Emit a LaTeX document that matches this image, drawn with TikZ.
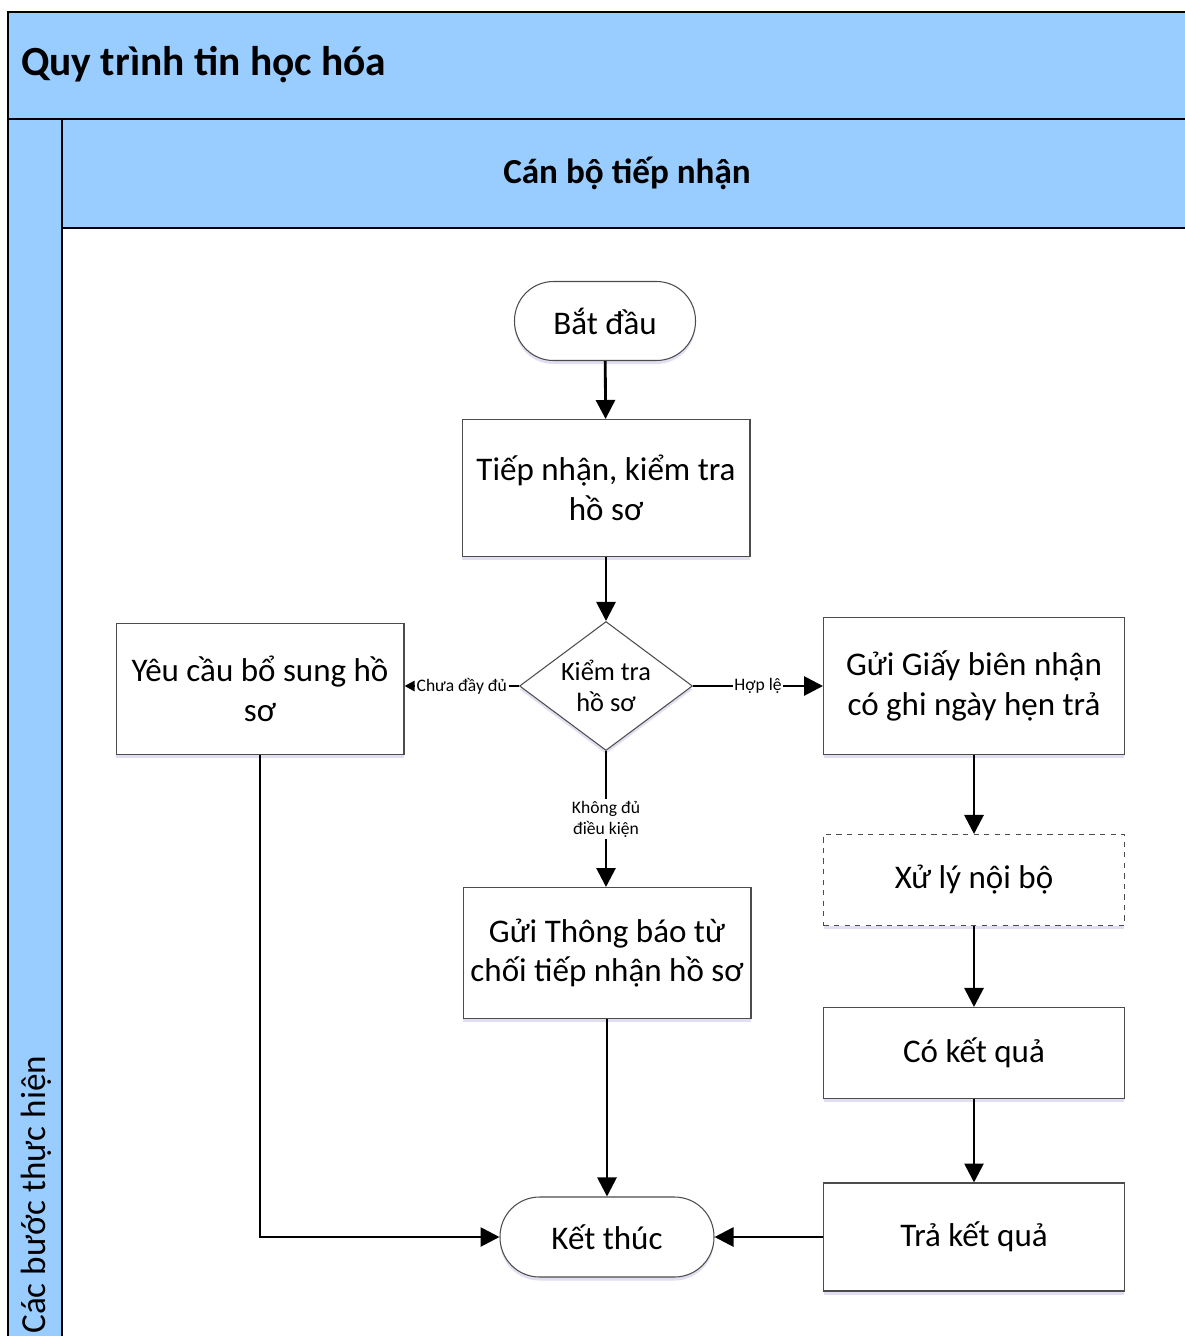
\documentclass[tikz,border=0pt]{standalone}
\usepackage{fontspec}
\setmainfont{Carlito}
\usetikzlibrary{shapes.geometric,arrows.meta,positioning,shadows}
\definecolor{lanebl}{RGB}{153,204,255}

\begin{document}
\begin{tikzpicture}[x=0.02cm, y=-0.02cm,
    lane/.style={draw=black, line width=1.2pt, fill=lanebl},
    boxtext/.style={align=center, font=\fontsize{18.8}{22.5}\selectfont},
    procbox/.style={boxtext, draw=gray!60!black, line width=0.6pt, fill=white,
        drop shadow={shadow xshift=0pt, shadow yshift=-2pt, fill=blue!40!gray, opacity=0.18}},
    termbox/.style={procbox, rounded corners=0.78cm, minimum height=1.58cm},
    decbox/.style={procbox, diamond, aspect=1.34, inner sep=0pt, minimum width=3.46cm, minimum height=2.58cm,
        font=\fontsize{15}{18}\selectfont},
    flow/.style={line width=1.6pt, -{Triangle[length=0.38cm, width=0.38cm]}},
    smallflow/.style={line width=1.6pt, -{Triangle[length=0.2cm, width=0.2cm]}},
    elabel/.style={fill=white, inner sep=1pt, align=center, font=\fontsize{10}{12}\selectfont}
]
\useasboundingbox (0,0) rectangle (1185,1336);
\clip (0,0) rectangle (1185,1336);

% pool and lane
\draw[lane] (8,12) rectangle (1200,119);
\draw[lane] (8,119) rectangle (62,1350);
\draw[lane] (62,119) rectangle (1200,228);
\draw[line width=1.2pt] (62,228) rectangle (1200,1350);
\node[anchor=west, font=\bfseries\fontsize{23.6}{28}\selectfont] (pool) at (15,65) {Quy trình tin học hóa};
\node[font=\bfseries\fontsize{20}{24}\selectfont] (lanehead) at (627,173) {Cán bộ tiếp nhận};
\node[rotate=90, anchor=west, inner sep=0pt, font=\fontsize{20}{24}\selectfont] (steps) at (36,1334) {Các bước thực hiện};

% flow nodes
\node[termbox, minimum width=3.62cm] (start) at (605,321) {Bắt đầu};
\node[procbox, minimum width=5.76cm, minimum height=2.74cm] (tiepnhan) at (606,488) {Tiếp nhận, kiểm tra\\hồ sơ};
\node[decbox] (kiemtra) at (606,686) {Kiểm tra\\hồ sơ};
\node[procbox, minimum width=5.76cm, minimum height=2.62cm] (yeucau) at (260,689) {Yêu cầu bổ sung hồ\\sơ};
\node[procbox, minimum width=6.02cm, minimum height=2.74cm] (guigiay) at (974,686) {Gửi Giấy biên nhận\\có ghi ngày hẹn trả};
\node[procbox, dashed, minimum width=6.02cm, minimum height=1.82cm] (xuly) at (974,880) {Xử lý nội bộ};
\node[procbox, minimum width=6.02cm, minimum height=1.82cm] (coketqua) at (974,1053) {Có kết quả};
\node[procbox, minimum width=6.02cm, minimum height=2.16cm] (traketqua) at (974,1237) {Trả kết quả};
\node[procbox, minimum width=5.76cm, minimum height=2.62cm] (tuchoi) at (607,953) {Gửi Thông báo từ\\chối tiếp nhận hồ sơ};
\node[termbox, minimum width=4.28cm, minimum height=1.6cm, rounded corners=0.79cm] (ketthuc) at (607,1237) {Kết thúc};

% connectors
\draw[flow] (start) -- (tiepnhan);
\draw[flow] (tiepnhan) -- (kiemtra);
\draw[smallflow] (kiemtra.west) -- node[elabel] {Chưa đầy đủ} (kiemtra.west -| yeucau.east);
\draw[flow] (kiemtra.east) -- node[elabel] {Hợp lệ} (kiemtra.east -| guigiay.west);
\draw[flow] (kiemtra.south) -- node[elabel] {Không đủ\\điều kiện} (kiemtra.south |- tuchoi.north);
\draw[flow] (guigiay) -- (xuly);
\draw[flow] (xuly) -- (coketqua);
\draw[flow] (coketqua) -- (traketqua);
\draw[flow] (traketqua) -- (ketthuc);
\draw[flow] (tuchoi) -- (ketthuc);
\draw[flow] (yeucau.south) |- (ketthuc.west);
\end{tikzpicture}
\end{document}
